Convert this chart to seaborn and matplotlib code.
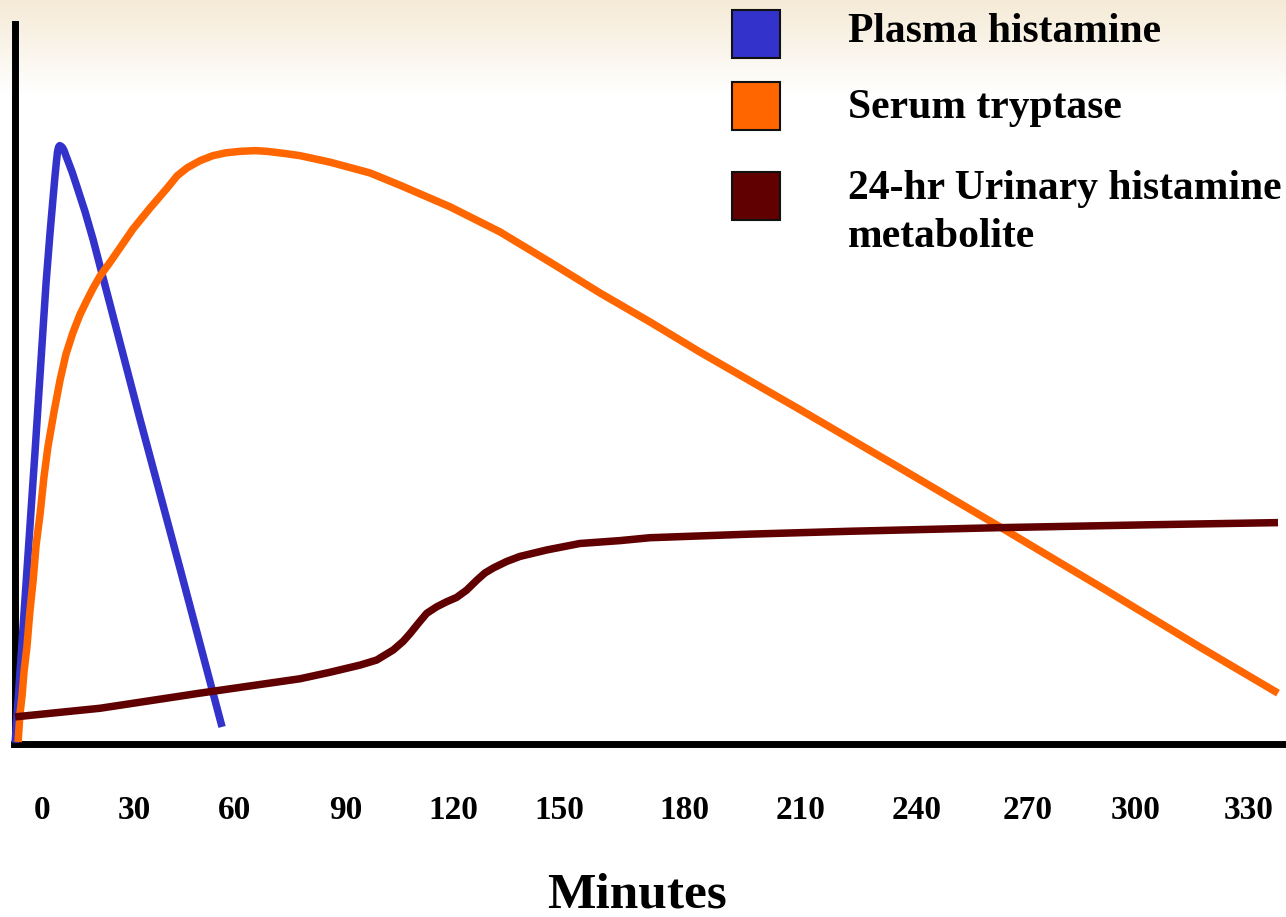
import numpy as np
import pandas as pd
import matplotlib
matplotlib.use("Agg")
import matplotlib.pyplot as plt
from matplotlib.patches import Rectangle
import seaborn as sns

# ---------------- data (minutes, relative level 0-100) ----------------
series_names = ["Plasma histamine", "Serum tryptase", "24-hr Urinary histamine\nmetabolite"]
series_colors = ["#3333CC", "#FF6600", "#600000"]

plasma_min = [-7.3, -4.6, -1.9, 0.0, 1.1, 2.2, 3.0, 3.5, 3.9, 4.2, 4.5, 4.8, 5.2, 5.6,
              6.0, 6.5, 8.2, 9.8, 11.7, 13.9, 16.6, 26.6, 37.5, 48.9]
plasma_lvl = [0.1, 20.2, 40.5, 55.4, 64.0, 71.1, 75.8, 78.7, 80.8, 82.2, 82.9, 83.1, 83.0, 82.8,
              82.4, 81.7, 79.4, 76.9, 73.9, 70.0, 64.7, 45.1, 24.3, 2.3]

tryptase_min = [-6.5, -6.0, -5.4, -4.9, -4.1, -3.3, -2.4, -1.6, -0.5, 0.5, 1.6, 3.3, 4.9, 6.5,
                8.4, 10.3, 12.2, 13.9, 15.8, 18.5, 21.2, 24.7, 29.3, 34.0, 36.7, 39.4, 42.9,
                46.4, 50.0, 53.8, 57.9, 61.1, 66.0, 70.1, 78.2, 89.1, 97.2, 110.8, 124.4,
                138.0, 151.6, 165.1, 178.7, 205.9, 233.0, 260.2, 287.4, 314.5, 335.7]
tryptase_lvl = [0.2, 4.0, 6.7, 9.9, 13.4, 18.3, 22.7, 27.6, 32.0, 36.9, 41.2, 46.2, 50.5, 54.1,
                57.1, 59.6, 61.6, 63.3, 65.0, 66.9, 68.9, 71.5, 74.4, 77.2, 78.9, 80.0, 81.0,
                81.7, 82.1, 82.3, 82.4, 82.3, 82.0, 81.7, 80.8, 79.3, 77.6, 74.6, 71.1,
                66.9, 62.6, 58.6, 54.4, 46.4, 38.3, 30.1, 21.8, 13.4, 7.0]

urinary_min = [-7.3, 15.8, 42.9, 56.5, 70.1, 78.2, 82.3, 86.4, 90.9, 95.4, 98.1, 100.0,
               102.2, 104.5, 107.2, 109.9, 112.6, 115.3, 118.1, 120.3, 122.6, 126.2, 129.8,
               137.1, 146.1, 157.0, 165.1, 192.3, 219.5, 260.2, 300.9, 335.7]
urinary_lvl = [3.7, 4.9, 7.0, 8.0, 9.0, 9.9, 10.4, 10.9, 11.6, 13.0, 14.2, 15.3,
               16.7, 18.1, 19.0, 19.7, 20.3, 21.3, 22.7, 23.7, 24.4, 25.3, 26.0,
               26.9, 27.8, 28.2, 28.6, 29.1, 29.5, 30.0, 30.4, 30.7]

tick_labels = ["0", "30", "60", "90", "120", "150", "180", "210", "240", "270", "300", "330"]
tick_pos = [0, 25.0, 52.4, 82.6, 111.6, 140.4, 174.4, 205.9, 237.6, 267.8, 296.9, 327.8]

x_label = "Minutes"

# ---------------- figure ----------------
sns.set_theme(style="white")
plt.rcParams["font.family"] = ["Liberation Serif", "DejaVu Serif"]
plt.rcParams["text.color"] = "black"

W, H = 1286, 917
fig = plt.figure(figsize=(W / 100, H / 100), dpi=100)
fig.patch.set_facecolor("white")

# beige top gradient
bg = fig.add_axes([0, 1 - 95 / H, 1, 95 / H], zorder=-5)
top = np.array([245, 234, 214]) / 255.0
grad = np.linspace(0, 1, 100)[:, None]
img = top[None, None, :] * (1 - grad[:, :, None]) + np.ones(3)[None, None, :] * grad[:, :, None]
img = np.repeat(img, 2, axis=1)
bg.imshow(img, aspect="auto", extent=[0, 1, 0, 1], origin="upper")
bg.set_axis_off()

left_px, bottom_px, top_px = 14.5, 743.5, 24.0
ax = fig.add_axes([left_px / W, (H - bottom_px) / H, (W - left_px) / W, (bottom_px - top_px) / H])
ax.patch.set_alpha(0)

df = pd.concat([
    pd.DataFrame({"Minutes": plasma_min, "Level": plasma_lvl, "Series": series_names[0]}),
    pd.DataFrame({"Minutes": tryptase_min, "Level": tryptase_lvl, "Series": series_names[1]}),
    pd.DataFrame({"Minutes": urinary_min, "Level": urinary_lvl, "Series": series_names[2]}),
])

sns.lineplot(data=df, x="Minutes", y="Level", hue="Series", hue_order=series_names,
             palette=series_colors, sort=False, estimator=None, linewidth=5.4,
             legend=False, ax=ax, zorder=3)
for ln in ax.get_lines():
    ln.set_solid_joinstyle("round")
    ln.set_solid_capstyle("butt")
    ln.set_clip_on(False)

x0 = -7.47
x1 = x0 + (W - left_px) * 330 / (1257 - 42)
ax.set_xlim(x0, x1)
ax.set_ylim(0, 100)

for s in ["top", "right"]:
    ax.spines[s].set_visible(False)
for s in ["left", "bottom"]:
    ax.spines[s].set_color("black")
    ax.spines[s].set_linewidth(5.0)
    ax.spines[s].set_capstyle("projecting")

ax.set_yticks([])
ax.set_xticks(tick_pos)
ax.set_xticklabels(tick_labels, fontsize=24, fontweight="bold", color="black")
ax.tick_params(axis="x", length=0, pad=37, labelcolor="black")
ax.set_xlabel(x_label, fontsize=37, fontweight="bold", color="black")
ax.xaxis.label.set_va("baseline")
ax.xaxis.set_label_coords((637 - left_px) / (W - left_px), -(908 - bottom_px) / (bottom_px - top_px))
ax.set_ylabel("")

# legend (manual, squares + labels)
sq = 48
sq_left = 732
sq_tops = [10, 82, 172]
text_baselines = [[42], [118], [199, 247]]
for name, col, t, bls in zip(series_names, series_colors, sq_tops, text_baselines):
    fig.add_artist(Rectangle((sq_left / W, 1 - (t + sq) / H), sq / W, sq / H,
                             transform=fig.transFigure, facecolor=col,
                             edgecolor="#111111", linewidth=1.5))
    for line, b in zip(name.split("\n"), bls):
        fig.text(848 / W, 1 - b / H, line, fontsize=30, fontweight="bold",
                 va="baseline", ha="left", color="black")

fig.savefig("out.png", dpi=100)
